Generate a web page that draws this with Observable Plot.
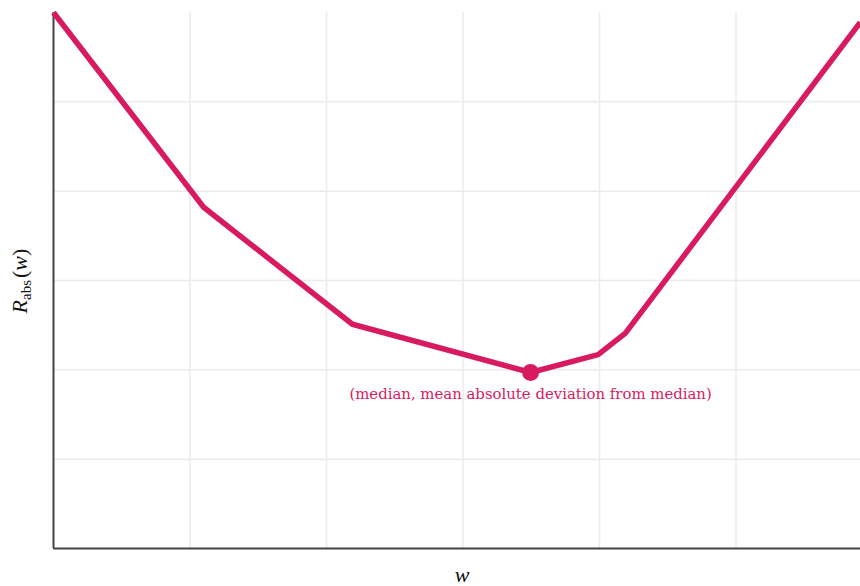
<!DOCTYPE html>
<html>
<head>
<meta charset="utf-8">
<script src="https://cdn.jsdelivr.net/npm/d3@7"></script>
<script src="https://cdn.jsdelivr.net/npm/@observablehq/plot@0.6"></script>
<style>
  html, body { margin: 0; padding: 0; background: #fff; }
  #chart svg { display: block; }
</style>
</head>
<body>
<div id="chart"></div>
<script>
// Vertices of the piecewise-linear risk curve
const wValues = [0, 1.10, 2.19, 3.495, 3.99, 4.19, 5.91];
const rValues = [6.0, 3.82, 2.51, 1.97, 2.17, 2.41, 5.89];
// Highlighted minimum
const minW = [3.495];
const minR = [1.97];
const minLabel = ["(median, mean absolute deviation from median)"];
// Grid positions
const xGrid = [1, 2, 3, 4, 5];
const yGrid = [1, 2, 3, 4, 5];

const color = "#D81B60";
const curve = wValues.map((w, i) => ({w, r: rValues[i]}));
const minPt = minW.map((w, i) => ({w, r: minR[i], label: minLabel[i]}));

const plot = Plot.plot({
  width: 860,
  height: 586,
  marginLeft: 53,
  marginRight: 0,
  marginTop: 12,
  marginBottom: 38,
  x: {domain: [0, 5.912], axis: null},
  y: {domain: [0, 6], axis: null},
  style: {background: "#fff", fontFamily: "'DejaVu Serif', serif"},
  marks: [
    Plot.ruleX(xGrid, {stroke: "#ebebeb", strokeWidth: 1.5}),
    Plot.ruleY(yGrid, {stroke: "#ebebeb", strokeWidth: 1.5}),
    Plot.ruleX([0], {stroke: "#444", strokeWidth: 2}),
    Plot.ruleY([0], {stroke: "#444", strokeWidth: 2}),
    Plot.line(curve, {x: "w", y: "r", stroke: color, strokeWidth: 5.5, strokeLinejoin: "round", strokeLinecap: "butt"}),
    Plot.dot(minPt, {x: "w", y: "r", r: 8.5, fill: color, stroke: "none"}),
    Plot.text(minPt, {x: "w", y: "r", text: "label", dy: 22, fill: color, fontSize: 14.9, fontFamily: "'DejaVu Serif', serif"})
  ]
});

const svg = d3.select(plot);
// y-axis label R_abs(w)
const yl = svg.append("text")
  .attr("transform", "translate(27,281) rotate(-90)")
  .attr("text-anchor", "middle")
  .attr("font-family", "'Liberation Serif', serif")
  .attr("font-size", 22)
  .attr("fill", "#111");
yl.append("tspan").attr("font-style", "italic").text("R");
yl.append("tspan").attr("font-size", 15).attr("dy", 4).text("abs");
yl.append("tspan").attr("dy", -4).attr("dx", 2).text("(");
yl.append("tspan").attr("font-style", "italic").text("w");
yl.append("tspan").text(")");
// x-axis label
svg.append("text")
  .attr("x", 462).attr("y", 582)
  .attr("text-anchor", "middle")
  .attr("font-family", "'Liberation Serif', serif")
  .attr("font-size", 22)
  .attr("font-style", "italic")
  .attr("fill", "#111")
  .text("w");

document.getElementById("chart").appendChild(plot);
</script>
</body>
</html>
